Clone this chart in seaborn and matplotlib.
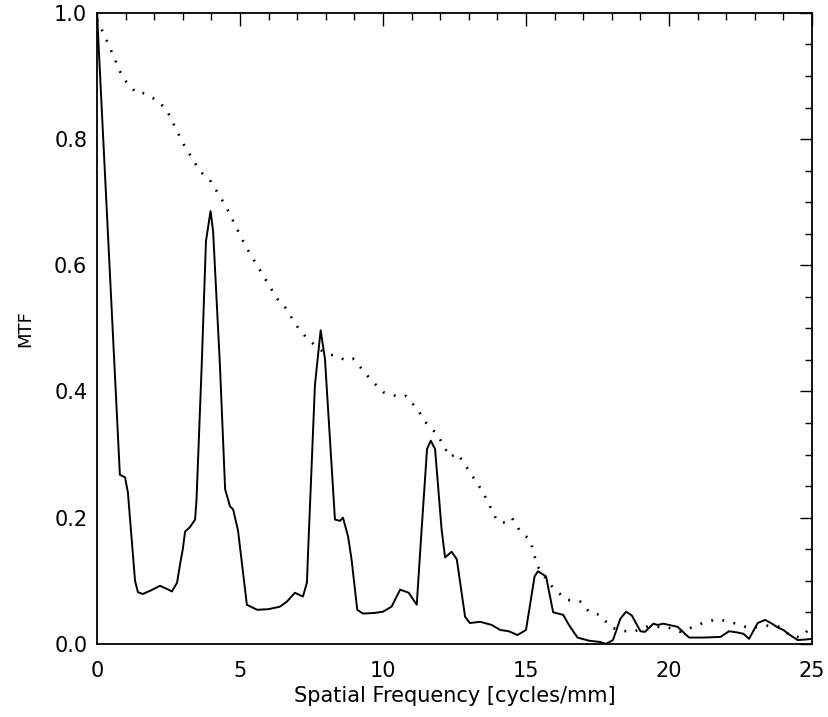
import matplotlib
matplotlib.use("Agg")
import matplotlib.pyplot as plt
from matplotlib.ticker import MultipleLocator
import seaborn as sns
import pandas as pd

# solid curve (measured MTF)
freq_solid = [0.0, 0.8, 0.98, 1.08, 1.33, 1.43, 1.6, 1.9, 2.2, 2.45, 2.62, 2.8, 2.9, 3.0,
              3.08, 3.25, 3.43, 3.48, 3.66, 3.81, 3.97, 4.06, 4.3, 4.48, 4.65, 4.76, 4.93,
              5.24, 5.6, 6.0, 6.4, 6.64, 6.92, 7.2, 7.34, 7.38, 7.62, 7.82, 7.97, 8.32, 8.5,
              8.6, 8.78, 8.9, 9.1, 9.3, 9.7, 10.0, 10.3, 10.6, 10.9, 11.06, 11.18, 11.35,
              11.54, 11.67, 11.82, 12.05, 12.17, 12.4, 12.58, 12.87, 13.04, 13.4, 13.8, 14.1,
              14.4, 14.7, 15.0, 15.3, 15.42, 15.7, 15.95, 16.3, 16.5, 16.8, 17.2, 17.6, 17.8,
              18.04, 18.3, 18.5, 18.7, 19.0, 19.16, 19.45, 19.6, 19.8, 20.3, 20.7, 21.2, 21.8,
              22.1, 22.4, 22.6, 22.8, 23.1, 23.36, 23.6, 23.8, 24.0, 24.2, 24.5, 24.8, 25.0]
mtf_solid = [1.0, 0.268, 0.264, 0.24, 0.10, 0.082, 0.079, 0.085, 0.092, 0.087, 0.083, 0.097,
             0.125, 0.15, 0.178, 0.185, 0.197, 0.229, 0.44, 0.638, 0.686, 0.654, 0.44, 0.245,
             0.218, 0.213, 0.18, 0.062, 0.054, 0.055, 0.059, 0.067, 0.081, 0.075, 0.097, 0.145,
             0.41, 0.497, 0.452, 0.197, 0.195, 0.2, 0.17, 0.134, 0.054, 0.048, 0.049, 0.051,
             0.059, 0.086, 0.081, 0.07, 0.062, 0.181, 0.309, 0.322, 0.309, 0.181, 0.137, 0.146,
             0.134, 0.043, 0.033, 0.035, 0.03, 0.022, 0.02, 0.014, 0.022, 0.107, 0.115, 0.107,
             0.05, 0.046, 0.03, 0.01, 0.005, 0.003, 0.0, 0.006, 0.04, 0.051, 0.045, 0.02, 0.019,
             0.032, 0.03, 0.032, 0.027, 0.01, 0.01, 0.011, 0.02, 0.018, 0.016, 0.008, 0.033,
             0.038, 0.032, 0.026, 0.022, 0.015, 0.006, 0.007, 0.008]

# dotted curve
freq_dot = [0.0, 0.45, 0.9, 1.4, 1.6, 2.13, 2.45, 3.0, 3.6, 3.95, 4.5, 5.2, 5.94, 6.3, 6.5,
            7.0, 7.34, 7.9, 8.74, 8.95, 9.55, 10.0, 10.6, 10.8, 11.2, 11.54, 11.9, 12.34, 12.6,
            13.04, 13.5, 14.0, 14.27, 14.5, 14.8, 15.14, 15.4, 15.84, 16.4, 16.9, 17.24, 17.6,
            17.94, 18.3, 18.75, 19.2, 19.9, 20.4, 20.85, 21.3, 21.7, 22.2, 22.8, 23.4, 23.9,
            24.2, 24.6, 24.87]
mtf_dot = [0.99, 0.945, 0.897, 0.872, 0.873, 0.861, 0.845, 0.794, 0.749, 0.735, 0.694, 0.63,
           0.574, 0.547, 0.539, 0.503, 0.484, 0.463, 0.449, 0.452, 0.42, 0.399, 0.391, 0.393,
           0.372, 0.348, 0.332, 0.296, 0.302, 0.272, 0.24, 0.194, 0.192, 0.2, 0.178, 0.165,
           0.123, 0.094, 0.07, 0.067, 0.049, 0.046, 0.027, 0.021, 0.019, 0.027, 0.027, 0.019,
           0.027, 0.035, 0.039, 0.034, 0.025, 0.029, 0.027, 0.014, 0.01, 0.022]

x_ticks = [0, 5, 10, 15, 20, 25]
y_ticks = [0.0, 0.2, 0.4, 0.6, 0.8, 1.0]

sns.set_style('white')
plt.rcParams['font.family'] = ['DejaVu Sans']
plt.rcParams['text.color'] = 'black'
plt.rcParams['axes.labelcolor'] = 'black'
plt.rcParams['xtick.color'] = 'black'
plt.rcParams['ytick.color'] = 'black'

solid_df = pd.DataFrame({'freq': freq_solid, 'mtf': mtf_solid})
dot_df = pd.DataFrame({'freq': freq_dot, 'mtf': mtf_dot})

fig = plt.figure(figsize=(8.29, 7.17), dpi=100)
ax = fig.add_axes([0.117, 0.102, 0.8625, 0.88])

sns.lineplot(x='freq', y='mtf', data=solid_df, ax=ax, color='black', linewidth=1.4,
             sort=False, estimator=None)
sns.lineplot(x='freq', y='mtf', data=dot_df, ax=ax, color='black', linewidth=1.9,
             sort=False, estimator=None, linestyle=(0, (0.7, 3.6)))

ax.set_xlim(0, 25)
ax.set_ylim(0, 1.0)
ax.set_xticks(x_ticks)
ax.set_xticklabels([str(t) for t in x_ticks])
ax.set_yticks(y_ticks)
ax.set_yticklabels([f"{t:.1f}" for t in y_ticks])
ax.xaxis.set_minor_locator(MultipleLocator(1))
ax.yaxis.set_minor_locator(MultipleLocator(0.05))
ax.tick_params(which='both', direction='in', top=True, right=True, width=1.0, colors='black',
               labelsize=15)
ax.tick_params(which='major', length=9)
ax.tick_params(which='minor', length=5)
ax.tick_params(axis='x', which='major', pad=12)
ax.tick_params(axis='y', which='major', pad=7)
for spine in ax.spines.values():
    spine.set_linewidth(1.3)
    spine.set_color('black')

ax.set_xlabel("Spatial Frequency [cycles/mm]", fontsize=15, labelpad=4)
ax.set_ylabel("MTF", fontsize=13, labelpad=14)

fig.savefig("out.png", dpi=100)
